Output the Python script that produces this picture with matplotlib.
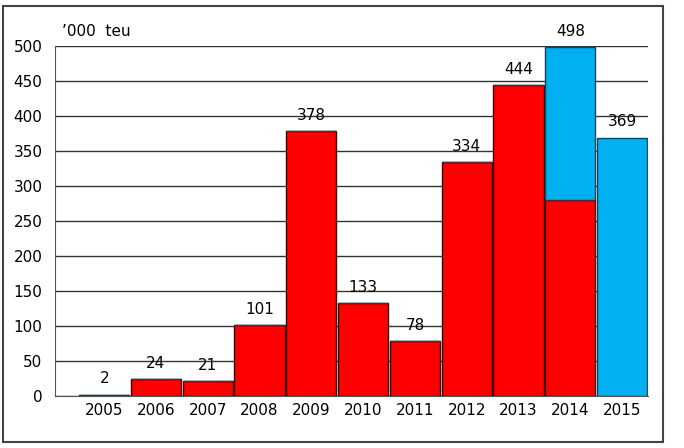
import numpy as np
from matplotlib import pyplot as plt
from matplotlib.patches import Rectangle

plt.rcParams['font.family'] = ['DejaVu Sans']

years = ['2005', '2006', '2007', '2008', '2009', '2010',
         '2011', '2012', '2013', '2014', '2015']
red_vals = [2, 24, 21, 101, 378, 133, 78, 334, 444, 280, 0]
blue_vals = [0, 0, 0, 0, 0, 0, 0, 0, 0, 218, 369]
labels = [2, 24, 21, 101, 378, 133, 78, 334, 444, 498, 369]

fig = plt.figure(figsize=(6.84, 4.48), dpi=100)
ax = fig.add_axes([55/684, 1 - 396/448, 593/684, 350/448])

x = np.arange(len(years))
ax.bar(x, red_vals, width=0.97, color='#FF0000', edgecolor='#3a0000', lw=1, zorder=3)
ax.bar(x, blue_vals, bottom=red_vals, width=0.97, color='#00B0F0',
       edgecolor='#1f3f50', lw=1, zorder=3)

for xi, v in zip(x, labels):
    ax.annotate(str(v), (xi, v), xytext=(0, 6), textcoords='offset points',
                ha='center', va='bottom', fontsize=11, zorder=4)

ax.set_xlim(-0.95, 10.5)
ax.set_ylim(0, 500)
ax.set_yticks(np.arange(0, 501, 50))
ax.set_xticks(x)
ax.set_xticklabels(years)
ax.tick_params(length=0, labelsize=11, pad=5)
ax.tick_params(axis='y', pad=9)
ax.grid(axis='y', color='#333333', lw=1, zorder=0)
for s in ('top', 'right'):
    ax.spines[s].set_visible(False)
for s in ('left', 'bottom'):
    ax.spines[s].set_color('#555555')

ax.text(62/684, 1 - 31/448, "’000  teu", transform=fig.transFigure,
        fontsize=11, ha='left', va='center')

fig.patches.append(Rectangle((3/684, 1 - 442/448), 660/684, 436/448,
                             transform=fig.transFigure, fill=False,
                             edgecolor='#444444', lw=1.5))

fig.savefig('out.png', dpi=100)
